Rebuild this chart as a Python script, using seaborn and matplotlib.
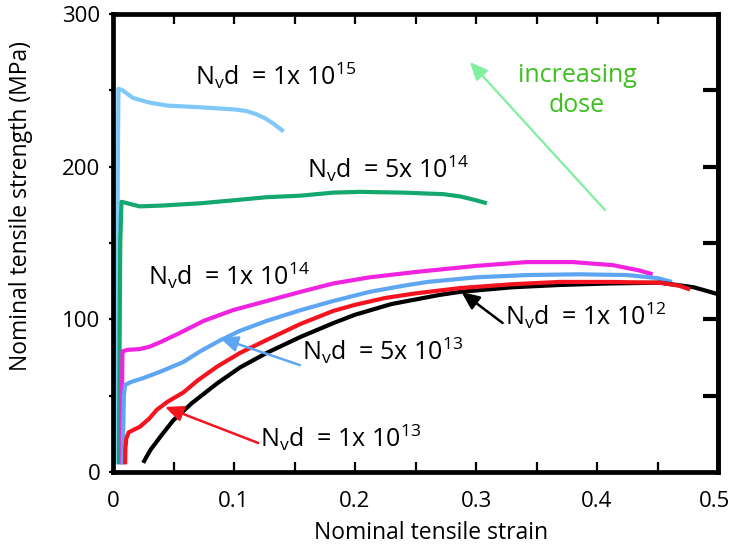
import numpy as np
import pandas as pd
import matplotlib
matplotlib.use("Agg")
import matplotlib.pyplot as plt
import matplotlib.transforms as mtransforms
import seaborn as sns

# ---- data ----
dose_labels = ["1e15", "5e14", "1e14", "5e13", "1e13", "1e12"]

x_1e15 = [0.003, 0.0035, 0.004, 0.0045, 0.008, 0.0165, 0.03, 0.045, 0.07, 0.1, 0.11, 0.118,
          0.125, 0.132, 0.137, 0.141]
y_1e15 = [5, 120, 200, 251, 250, 245, 242, 240, 239, 237.5, 236.5, 234.5,
          232, 228.5, 225.5, 223]

x_5e14 = [0.005, 0.0055, 0.006, 0.007, 0.012, 0.022, 0.04, 0.072, 0.1, 0.127, 0.155, 0.182,
          0.204, 0.24, 0.273, 0.287, 0.3, 0.309]
y_5e14 = [5, 90, 150, 177, 176, 174, 174.5, 176, 178, 180, 181, 183,
          183.5, 183, 182, 180.5, 178, 176]

x_1e14 = [0.007, 0.0073, 0.0078, 0.012, 0.022, 0.03, 0.039, 0.047, 0.055, 0.075, 0.099, 0.127,
          0.155, 0.182, 0.212, 0.25, 0.3, 0.342, 0.38, 0.413, 0.435, 0.446]
y_1e14 = [5, 40, 79, 80, 80.5, 82, 85, 88, 91, 99, 106, 112,
          118, 123.5, 127.5, 131, 135, 137.5, 137.5, 135.5, 132, 129.5]

x_5e13 = [0.008, 0.0085, 0.009, 0.01, 0.015, 0.025, 0.04, 0.058, 0.072, 0.088, 0.105, 0.127,
          0.155, 0.182, 0.212, 0.24, 0.26, 0.3, 0.342, 0.385, 0.425, 0.45, 0.462]
y_5e13 = [5, 30, 50, 57, 59, 61.5, 66, 72, 79, 86, 92.5, 99,
          106, 112, 118, 122, 124.5, 127.5, 129, 129.5, 129, 127, 124.5]

x_1e13 = [0.01, 0.0102, 0.011, 0.013, 0.018, 0.022, 0.03, 0.036, 0.045, 0.058, 0.07, 0.086,
          0.105, 0.127, 0.155, 0.182, 0.2, 0.225, 0.25, 0.287, 0.33, 0.369, 0.41, 0.452, 0.468, 0.477]
y_1e13 = [5, 15, 22, 26, 28, 29.5, 35, 40.6, 46, 52, 60, 69,
          78, 86.5, 97, 105.5, 109.5, 114, 117, 120.5, 123, 124.5, 124.5, 124, 122, 119.5]

x_1e12 = [0.025, 0.027, 0.031, 0.04, 0.05, 0.065, 0.086, 0.105, 0.127, 0.155, 0.182, 0.2,
          0.23, 0.25, 0.27, 0.287, 0.33, 0.369, 0.41, 0.452, 0.48, 0.5, 0.52]
y_1e12 = [6, 9, 14.5, 24, 34, 45, 58, 68.5, 78, 88.5, 97.5, 103,
          110, 113, 116, 118, 121, 122.5, 123.5, 124, 121, 116.5, 112]

xticks = [0, 0.1, 0.2, 0.3, 0.4, 0.5]
xtick_labels = ["0", "0.1", "0.2", "0.3", "0.4", "0.5"]
yticks = [0, 100, 200, 300]
ytick_labels = ["0", "100", "200", "300"]

colors = {"1e15": "#80c8f8", "5e14": "#14a86e", "1e14": "#f024e0",
          "5e13": "#5ea6f2", "1e13": "#f41420", "1e12": "#000000"}

series = {"1e15": (x_1e15, y_1e15), "5e14": (x_5e14, y_5e14), "1e14": (x_1e14, y_1e14),
          "5e13": (x_5e13, y_5e13), "1e13": (x_1e13, y_1e13), "1e12": (x_1e12, y_1e12)}

rows = []
for lab in dose_labels:
    xs, ys = series[lab]
    for i, (a, b) in enumerate(zip(xs, ys)):
        rows.append({"dose": lab, "order": i, "strain": a, "stress": b})
df = pd.DataFrame(rows)

# ---- style ----
sns.set_theme(style="white")
FONT = ["Open Sans", "DejaVu Sans"]
plt.rcParams["font.family"] = FONT
plt.rcParams["mathtext.fontset"] = "custom"
plt.rcParams["mathtext.rm"] = "Open Sans"
plt.rcParams["mathtext.it"] = "Open Sans"
plt.rcParams["mathtext.bf"] = "Open Sans"

fig = plt.figure(figsize=(7.31, 5.48), dpi=100)
ax = fig.add_axes([113 / 731, 1 - 472 / 548, 605 / 731, 458 / 548])

draw_order = ["1e15", "5e14", "1e14", "5e13", "1e12", "1e13"]
for lab in draw_order:
    sub = df[df.dose == lab]
    sns.lineplot(data=sub, x="strain", y="stress", sort=False, estimator=None,
                 color=colors[lab], linewidth=3.0, ax=ax, legend=False)
for line in ax.lines:
    line.set_solid_joinstyle("round")
    line.set_solid_capstyle("butt")

ax.set_xlim(0, 0.5)
ax.set_ylim(0, 300)

for s in ax.spines.values():
    s.set_linewidth(3.4)
    s.set_color("black")

ax.set_xticks(xticks)
ax.set_xticklabels(xtick_labels)
ax.set_xticks(np.arange(0.05, 0.5, 0.05), minor=True)
ax.tick_params(axis="x", which="both", direction="in", top=True, bottom=True,
               length=7, width=1.6, color="black", labelsize=16, pad=14, labelcolor="black")
ax.set_yticks(yticks)
ax.set_yticklabels(ytick_labels)
ax.set_yticks([50, 150, 250], minor=True)
ax.tick_params(axis="y", which="both", direction="out", left=True, right=False,
               length=3, width=1.6, color="black", labelsize=16, pad=6, labelcolor="black")

# nudge the last x tick label so it stays inside the figure
last = ax.get_xticklabels()[-1]
last.set_transform(last.get_transform() + mtransforms.ScaledTranslation(-4 / 100, 0, fig.dpi_scale_trans))

sec = ax.secondary_yaxis("right")
sec.set_yticks([50, 100, 150, 200, 250])
sec.tick_params(direction="in", length=11, width=3, labelright=False, color="black")
sec.spines["right"].set_linewidth(3.4)

ax.set_xlabel("Nominal tensile strain", fontsize=16.5, color="black")
ax.set_ylabel("Nominal tensile strength (MPa)", fontsize=16.5, color="black")
ax.xaxis.set_label_coords(0.526, -0.106)
ax.yaxis.set_label_coords(-0.132, 0.58)

# ---- annotations ----
def nlabel(mant, exp):
    return r"N$_{\mathregular{v}}$d  = " + mant + r"x 10$^{\mathregular{" + exp + "}}$"

tk = dict(fontsize=18, color="black", ha="left", va="baseline")
ax.text(0.068, 253.4, nlabel("1", "15"), **tk)
ax.text(0.160, 192.5, nlabel("5", "14"), **tk)
ax.text(0.029, 122.5, nlabel("1", "14"), **tk)
ax.text(0.156, 73.3, nlabel("5", "13"), **tk)
ax.text(0.1215, 16.4, nlabel("1", "13"), **tk)
ax.text(0.324, 96.3, nlabel("1", "12"), **tk)

ahead = "-|>,head_length=0.9,head_width=0.4"
ax.annotate("", xy=(0.0884, 87.8), xytext=(0.1545, 70),
            arrowprops=dict(arrowstyle=ahead, color="#5ea6f2", lw=1.8, shrinkA=0, shrinkB=0))
ax.annotate("", xy=(0.043, 42.6), xytext=(0.12, 19),
            arrowprops=dict(arrowstyle=ahead, color="#f41420", lw=1.8, shrinkA=0, shrinkB=0))
ax.annotate("", xy=(0.288, 117.9), xytext=(0.322, 97.6),
            arrowprops=dict(arrowstyle=ahead, color="black", lw=1.8, shrinkA=0, shrinkB=0))
ax.annotate("", xy=(0.295, 268.5), xytext=(0.4066, 171.6),
            arrowprops=dict(arrowstyle=ahead, color="#80f0a0", lw=1.6, shrinkA=0, shrinkB=0))
ax.text(0.3835, 250, "increasing\ndose", fontsize=18, color="#3dbf1f",
        ha="center", va="center", linespacing=1.25)

fig.savefig("out.png", dpi=100)
